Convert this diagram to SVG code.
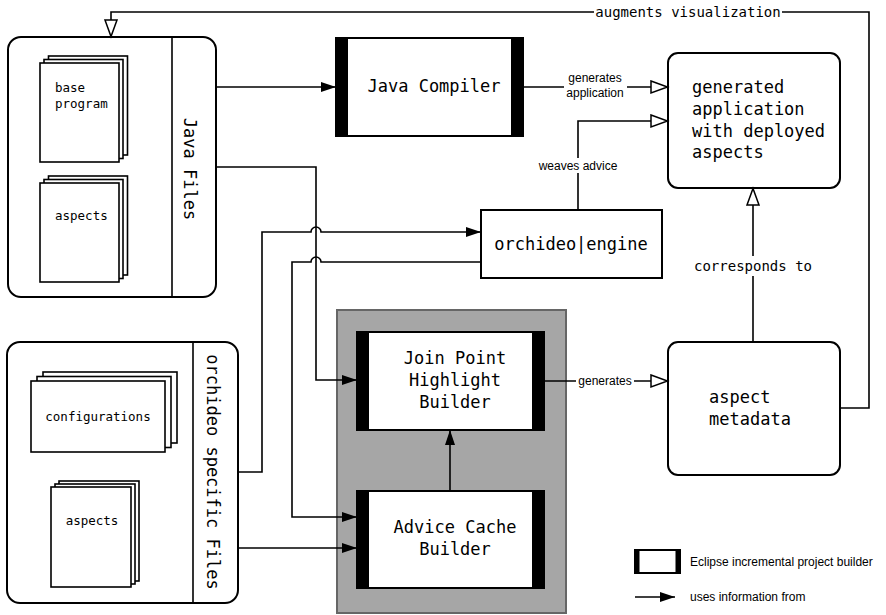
<svg xmlns="http://www.w3.org/2000/svg" width="886" height="615" viewBox="0 0 886 615">
  <defs>
    <style>
      .box { fill: #fff; stroke: #000; stroke-width: 2; }
      .page { fill: #fff; stroke: #000; stroke-width: 1.6; }
      .bar { fill: #000; }
      .line { fill: none; stroke: #000; stroke-width: 1.6; }
      .mono { font-family: "DejaVu Sans Mono", "Liberation Mono", monospace; fill: #000; }
      .big { font-size: 17px; }
      .small { font-size: 12.5px; }
      .mid { font-size: 14px; }
      .sans { font-family: "Liberation Sans", Arial, sans-serif; font-size: 12px; fill: #000; }
      .c { text-anchor: middle; }
      .bg { fill: #fff; stroke: none; }
    </style>
    <marker id="solid" markerUnits="userSpaceOnUse" markerWidth="16" markerHeight="12" refX="15" refY="5.5" orient="auto">
      <path d="M0,0.5 L15,5.5 L0,10.5 z" fill="#000"/>
    </marker>
    <marker id="hollow" markerUnits="userSpaceOnUse" markerWidth="20" markerHeight="16" refX="18" refY="7" orient="auto">
      <path d="M1,1 L17.5,7 L1,13 z" fill="#fff" stroke="#000" stroke-width="1.5"/>
    </marker>
  </defs>

  <!-- Java source files -->
  <g id="java-files">
    <rect class="box" x="8" y="37" width="208" height="260" rx="13"/>
    <line class="line" x1="172" y1="37" x2="172" y2="297" stroke-width="2"/>
    <text class="mono big" transform="translate(190,169) rotate(90)" text-anchor="middle" y="6">Java Files</text>
    <g id="doc-base-program">
      <rect class="page" x="48.5" y="56" width="79" height="99"/>
      <rect class="page" x="44" y="59.5" width="79" height="99"/>
      <rect class="page" x="40" y="63" width="79" height="99"/>
      <text class="mono small" x="55" y="92">base</text>
      <text class="mono small" x="55" y="108">program</text>
    </g>
    <g id="doc-java-aspects">
      <rect class="page" x="48.5" y="176" width="79" height="99"/>
      <rect class="page" x="44" y="179.5" width="79" height="99"/>
      <rect class="page" x="40" y="183" width="79" height="99"/>
      <text class="mono small" x="55" y="220">aspects</text>
    </g>
  </g>

  <!-- orchideo specific files -->
  <g id="orchideo-files">
    <rect class="box" x="7" y="342" width="231" height="261" rx="13"/>
    <line class="line" x1="193" y1="342" x2="193" y2="603" stroke-width="2"/>
    <text class="mono big" transform="translate(213,472) rotate(90)" text-anchor="middle" y="6">orchideo specific Files</text>
    <g id="doc-configurations">
      <rect class="page" x="43" y="372" width="134" height="71"/>
      <rect class="page" x="37" y="376.5" width="134" height="71"/>
      <rect class="page" x="31" y="381" width="134" height="71"/>
      <text class="mono small c" x="98" y="421">configurations</text>
    </g>
    <g id="doc-orchideo-aspects">
      <rect class="page" x="59" y="481" width="80" height="100"/>
      <rect class="page" x="55" y="484" width="80" height="100"/>
      <rect class="page" x="51" y="487" width="80" height="100"/>
      <text class="mono small c" x="92" y="525">aspects</text>
    </g>
  </g>

  <!-- Java Compiler builder -->
  <g id="java-compiler">
    <rect class="box" x="336" y="38" width="187" height="98"/>
    <rect class="bar" x="336" y="38" width="12" height="98"/>
    <rect class="bar" x="511" y="38" width="12" height="98"/>
    <text class="mono big c" x="434" y="92">Java Compiler</text>
  </g>

  <!-- orchideo|engine -->
  <g id="orchideo-engine">
    <rect class="box" x="481" y="210" width="181" height="68"/>
    <text class="mono big c" x="571" y="250">orchideo|engine</text>
  </g>

  <!-- generated application -->
  <g id="generated-application">
    <rect class="box" x="668" y="53" width="172" height="135" rx="10"/>
    <text class="mono big" x="692" y="93">generated</text>
    <text class="mono big" x="692" y="115">application</text>
    <text class="mono big" x="692" y="137">with deployed</text>
    <text class="mono big" x="692" y="158">aspects</text>
  </g>

  <!-- aspect metadata -->
  <g id="aspect-metadata">
    <rect class="box" x="668" y="342" width="172" height="133" rx="10"/>
    <text class="mono big" x="709" y="403">aspect</text>
    <text class="mono big" x="709" y="425">metadata</text>
  </g>

  <!-- container for the orchideo builders -->
  <g id="builder-group">
    <rect x="337" y="310" width="229" height="303" fill="#a6a6a6" stroke="#666" stroke-width="2"/>
  </g>

  <g id="join-point-highlight-builder">
    <rect class="box" x="357" y="332" width="187" height="98"/>
    <rect class="bar" x="357" y="332" width="12" height="98"/>
    <rect class="bar" x="532" y="332" width="12" height="98"/>
    <text class="mono big c" x="455" y="364">Join Point</text>
    <text class="mono big c" x="455" y="386">Highlight</text>
    <text class="mono big c" x="455" y="408">Builder</text>
  </g>

  <g id="advice-cache-builder">
    <rect class="box" x="357" y="491" width="187" height="97"/>
    <rect class="bar" x="357" y="491" width="12" height="97"/>
    <rect class="bar" x="532" y="491" width="12" height="97"/>
    <text class="mono big c" x="455" y="533">Advice Cache</text>
    <text class="mono big c" x="455" y="555">Builder</text>
  </g>

  <!-- connectors -->
  <g id="connectors">
    <path class="line" d="M216,87 H336" marker-end="url(#solid)"/>
    <path class="line" d="M216,167 H316 V380 H357" marker-end="url(#solid)"/>
    <path class="line" d="M238,472 H262 V232 H311 A5,5 0 0 1 321,232 H481" marker-end="url(#solid)"/>
    <path class="line" d="M481,262 H321 A5,5 0 0 0 311,262 H292 V517 H357" marker-end="url(#solid)"/>
    <path class="line" d="M238,548 H357" marker-end="url(#solid)"/>
    <path class="line" d="M450,491 V430" marker-end="url(#solid)"/>
    <path class="line" d="M544,381 H668" marker-end="url(#hollow)"/>
    <path class="line" d="M523,87 H668" marker-end="url(#hollow)"/>
    <path class="line" d="M578,210 V121 H668" marker-end="url(#hollow)"/>
    <path class="line" d="M753,342 V188" marker-end="url(#hollow)"/>
    <path class="line" d="M840,408 H869 V12 H111 V37" marker-end="url(#hollow)"/>

    <!-- connector labels -->
    <rect class="bg" x="564" y="71" width="63" height="28"/>
    <text class="sans c" x="595" y="82">generates</text>
    <text class="sans c" x="595" y="97">application</text>
    <rect class="bg" x="537" y="158" width="82" height="15"/>
    <text class="sans c" x="578" y="170">weaves advice</text>
    <rect class="bg" x="576" y="374" width="58" height="14"/>
    <text class="sans c" x="605" y="385">generates</text>
    <rect class="bg" x="692" y="256" width="122" height="20"/>
    <text class="mono mid c" x="753" y="271">corresponds to</text>
    <rect class="bg" x="594" y="4" width="188" height="16"/>
    <text class="mono mid c" x="688" y="17">augments visualization</text>
  </g>

  <!-- legend -->
  <g id="legend">
    <rect class="box" x="635" y="550" width="45" height="23" stroke-width="1.6"/>
    <rect class="bar" x="635" y="550" width="4.5" height="23"/>
    <rect class="bar" x="675.5" y="550" width="4.5" height="23"/>
    <text class="sans" x="690" y="566">Eclipse incremental project builder</text>
    <path class="line" d="M635,597 H675" marker-end="url(#solid)"/>
    <text class="sans" x="690" y="601">uses information from</text>
  </g>
</svg>
